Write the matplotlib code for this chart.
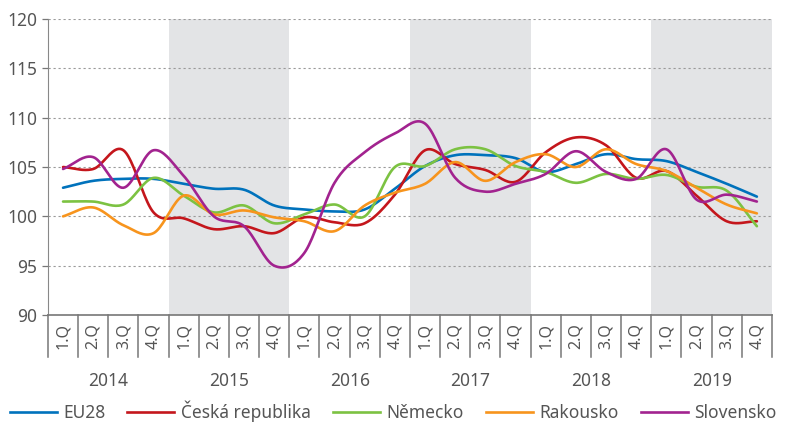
import numpy as np
import matplotlib
matplotlib.use("Agg")
import matplotlib.pyplot as plt
from matplotlib.lines import Line2D

# Data (index)
years = ["2014", "2015", "2016", "2017", "2018", "2019"]
quarters = ["1.Q", "2.Q", "3.Q", "4.Q"]

eu28 = [102.9, 103.6, 103.8, 103.8, 103.3, 102.8, 102.7, 101.1,
        100.7, 100.5, 100.7, 102.8, 105.1, 106.2, 106.2, 105.9,
        104.5, 105.3, 106.3, 105.8, 105.6, 104.5, 103.3, 102.0]
cesko = [105.0, 104.8, 106.7, 100.4, 99.8, 98.7, 99.0, 98.3,
         99.9, 99.4, 99.3, 102.2, 106.7, 105.3, 104.7, 103.5,
         106.5, 108.0, 107.2, 103.9, 104.6, 102.1, 99.5, 99.5]
nemecko = [101.5, 101.5, 101.2, 103.9, 102.1, 100.4, 101.1, 99.3,
           100.2, 101.2, 100.0, 105.0, 105.1, 106.8, 106.8, 105.1,
           104.5, 103.4, 104.3, 103.8, 104.2, 103.0, 102.6, 99.0]
rakousko = [100.0, 100.9, 99.1, 98.3, 102.1, 100.2, 100.6, 99.9,
            99.5, 98.5, 101.1, 102.4, 103.3, 105.5, 103.6, 105.5,
            106.3, 105.0, 106.8, 105.3, 104.6, 102.9, 101.2, 100.3]
slovensko = [104.8, 106.0, 102.9, 106.7, 104.1, 100.0, 99.0, 95.0,
             96.3, 103.4, 106.5, 108.4, 109.4, 103.9, 102.5, 103.3,
             104.3, 106.6, 104.5, 103.8, 106.8, 101.7, 102.2, 101.5]

series = [
    ("EU28", eu28, "#0072bc"),
    ("Česká republika", cesko, "#c4161c"),
    ("Německo", nemecko, "#7cc242"),
    ("Rakousko", rakousko, "#f7941d"),
    ("Slovensko", slovensko, "#a2238f"),
]

TXT = "#555555"
SHADE = "#e3e4e6"


def smooth(x, y, n=20):
    # Catmull-Rom spline through the points (Excel-like smoothed line)
    x = np.asarray(x, float)
    y = np.asarray(y, float)
    px = np.concatenate([[2 * x[0] - x[1]], x, [2 * x[-1] - x[-2]]])
    py = np.concatenate([[2 * y[0] - y[1]], y, [2 * y[-1] - y[-2]]])
    t = np.linspace(0, 1, n, endpoint=False)
    xs, ys = [], []
    for i in range(1, len(px) - 2):
        for arr, out in ((px, xs), (py, ys)):
            p0, p1, p2, p3 = arr[i - 1], arr[i], arr[i + 1], arr[i + 2]
            out.extend(0.5 * (2 * p1 + (-p0 + p2) * t
                              + (2 * p0 - 5 * p1 + 4 * p2 - p3) * t ** 2
                              + (-p0 + 3 * p1 - 3 * p2 + p3) * t ** 3))
    xs.append(x[-1])
    ys.append(y[-1])
    return np.array(xs), np.array(ys)


plt.rcParams["font.family"] = ["Noto Sans", "DejaVu Sans"]

fig = plt.figure(figsize=(7.85, 4.23), dpi=100)
ax = fig.add_axes([0.0611, 0.2553, 0.9223, 0.6997])

n = len(years) * len(quarters)
xq = np.arange(n) + 0.5

# shaded years
for k in range(1, len(years), 2):
    ax.axvspan(k * 4, k * 4 + 4, color=SHADE, lw=0, zorder=0)

for yv in range(95, 121, 5):
    ax.axhline(yv, color="#9a9a9a", lw=0.8, ls=(0, (2, 2.5)), zorder=1)

handles = []
for name, vals, col in series:
    sx, sy = smooth(xq, vals)
    ax.plot(sx, sy, color=col, lw=1.9, zorder=3, solid_capstyle="round")
    handles.append(Line2D([], [], color=col, lw=1.9))

ax.set_xlim(0, n)
ax.set_ylim(90, 120)
ax.set_yticks(range(90, 121, 5))
ax.tick_params(axis="y", colors="#777777", labelcolor=TXT, labelsize=12.5,
               length=4, width=0.9)
ax.set_xticks([])
for s in ("top", "right"):
    ax.spines[s].set_visible(False)
ax.spines["left"].set_color("#888888")
ax.spines["bottom"].set_color("#777777")
ax.spines["bottom"].set_linewidth(1.2)

# quarter boxes and labels under the axis
tr = ax.get_xaxis_transform()
for i in range(n + 1):
    ax.plot([i, i], [0, -0.142], color="#777777", lw=1.1, transform=tr,
            clip_on=False)
for i in range(n):
    ax.text(i + 0.5, -0.071, quarters[i % 4], rotation=90, ha="center",
            va="center", transform=tr, color=TXT, fontsize=11.5)
for k, yr in enumerate(years):
    ax.text(k * 4 + 2, -0.222, yr, ha="center", va="center", transform=tr,
            color=TXT, fontsize=12.5)

fig.legend(handles, [s[0] for s in series], loc="center",
           bbox_to_anchor=(0.501, 0.028), ncol=5, frameon=False,
           fontsize=12.5, handlelength=2.7, handletextpad=0.4,
           columnspacing=1.25, labelcolor=TXT, borderpad=0.1)

fig.savefig("out.png", dpi=100)
